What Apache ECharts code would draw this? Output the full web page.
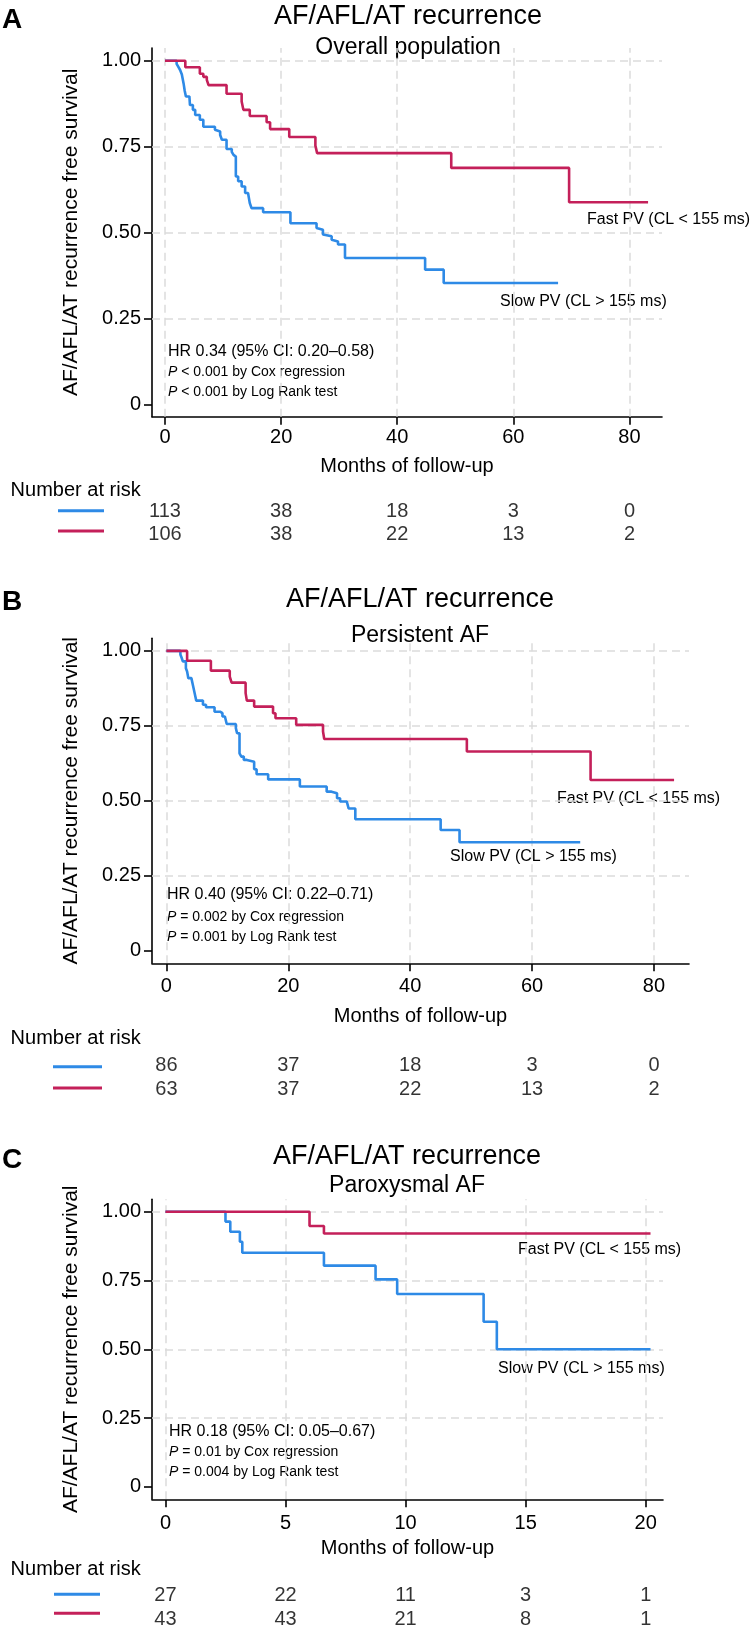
<!DOCTYPE html>
<html>
<head>
<meta charset="utf-8">
<script src="https://cdn.jsdelivr.net/npm/echarts@6/dist/echarts.min.js"></script>
<style>
html, body { margin: 0; padding: 0; background: #fff; }
#main { width: 754px; height: 1636px; }
</style>
</head>
<body>
<div id="main"></div>
<script>
var RED = '#C4205A', BLUE = '#2E8AE6';
var FONT = '"Liberation Sans", Arial, Helvetica, sans-serif';

var yTicks = [0, 0.25, 0.5, 0.75, 1];
var yGrid = [0.25, 0.5, 0.75, 1];
var monthsLong = [0, 20, 40, 60, 80];
var monthsShort = [0, 5, 10, 15, 20];

// A - overall population
var aSlowT = [0, 2.0, 2.3, 2.6, 2.9, 3.2, 3.4, 3.6, 4.2, 4.3, 4.8, 5.2, 6.0, 6.6, 8.6, 8.9, 9.5, 9.8, 10.6, 11.5, 11.8, 12.05,
    12.2, 12.6, 13.2, 13.8, 14.3, 14.6, 14.9, 16.9, 21.6, 26.1, 26.4, 27.2, 27.5, 28.7, 29.0, 29.8, 31.0, 44.8, 48.0, 67.7];
var aSlowS = [1, 0.991, 0.982, 0.973, 0.960, 0.934, 0.912, 0.896, 0.891, 0.871, 0.857, 0.842, 0.828, 0.808, 0.799, 0.794, 0.784, 0.770, 0.743, 0.735, 0.726, 0.721,
    0.663, 0.649, 0.634, 0.615, 0.610, 0.586, 0.571, 0.559, 0.527, 0.513, 0.508, 0.494, 0.489, 0.479, 0.474, 0.465, 0.426, 0.392, 0.353, 0.353];
var aFastT = [0, 3.5, 6.0, 6.6, 7.2, 7.5, 10.6, 13.2, 13.5, 14.6, 17.5, 18.1, 21.4, 25.9, 26.2, 49.3, 69.6, 83.2];
var aFastS = [1, 0.981, 0.962, 0.953, 0.944, 0.929, 0.904, 0.881, 0.857, 0.839, 0.821, 0.801, 0.778, 0.753, 0.731, 0.688, 0.588, 0.588];
var aRiskSlow = [113, 38, 18, 3, 0];
var aRiskFast = [106, 38, 22, 13, 2];
var aStats = ['HR 0.34 (95% CI: 0.20\u20130.58)', ' < 0.001 by Cox regression', ' < 0.001 by Log Rank test'];

// B - persistent AF
var bSlowT = [0, 2.3, 2.5, 2.7, 3.2, 3.4, 3.6, 4.1, 4.4, 4.7, 4.9, 6.0, 6.5, 7.9, 8.8, 9.2, 9.6, 9.9, 11.4, 11.6, 12.0,
    12.3, 12.7, 13.2, 14.4, 14.8, 16.7, 21.9, 26.3, 27.1, 28.0, 28.5, 29.6, 29.9, 31.0, 45.0, 48.1, 67.9];
var bSlowS = [1, 0.988, 0.977, 0.965, 0.942, 0.931, 0.909, 0.903, 0.881, 0.853, 0.834, 0.820, 0.812, 0.797, 0.792, 0.781, 0.775, 0.756, 0.742, 0.725, 0.658,
    0.647, 0.636, 0.630, 0.605, 0.588, 0.571, 0.547, 0.530, 0.525, 0.508, 0.497, 0.491, 0.474, 0.438, 0.402, 0.361, 0.361];
var bFastT = [0, 3.4, 7.3, 10.4, 10.7, 13.0, 13.2, 14.4, 17.5, 17.9, 21.3, 25.7, 25.9, 49.3, 69.6, 83.3];
var bFastS = [1, 0.967, 0.934, 0.914, 0.894, 0.859, 0.834, 0.814, 0.792, 0.775, 0.753, 0.731, 0.706, 0.664, 0.569, 0.569];
var bRiskSlow = [86, 37, 18, 3, 0];
var bRiskFast = [63, 37, 22, 13, 2];
var bStats = ['HR 0.40 (95% CI: 0.22\u20130.71)', ' = 0.002 by Cox regression', ' = 0.001 by Log Rank test'];

// C - paroxysmal AF
var cSlowT = [0, 2.5, 2.7, 3.1, 3.2, 6.6, 8.75, 9.65, 13.25, 13.8, 20.2];
var cSlowS = [1, 0.964, 0.927, 0.891, 0.851, 0.804, 0.754, 0.701, 0.600, 0.500, 0.500];
var cFastT = [0, 6.0, 6.6, 20.2];
var cFastS = [1, 0.948, 0.921, 0.921];
var cRiskSlow = [27, 22, 11, 3, 1];
var cRiskFast = [43, 43, 21, 8, 1];
var cStats = ['HR 0.18 (95% CI: 0.05\u20130.67)', ' = 0.01 by Cox regression', ' = 0.004 by Log Rank test'];

var panels = [
    {letter: 'A', sub: 'Overall population', ticks: monthsLong,
        slowT: aSlowT, slowS: aSlowS, fastT: aFastT, fastS: aFastS, riskSlow: aRiskSlow, riskFast: aRiskFast, stats: aStats,
        box: {left: 152, top: 48, width: 510, height: 368.7}, xMin: -2.24, xMax: 85.6, yMin: -0.036, yMax: 1.037,
        cx: 408, letterY: 20, titleY: 17, subY: 48, labelMargin: 11, nameGap: 40,
        statsX: 168, statsY: [351.7, 372.3, 392.3], fastXY: [587, 220], slowXY: [500, 301.7],
        headY: 490, riskTop: 500, keyX: [58, 104], keyY: [510.7, 531]},
    {letter: 'B', sub: 'Persistent AF', ticks: monthsLong,
        slowT: bSlowT, slowS: bSlowS, fastT: bFastT, fastS: bFastS, riskSlow: bRiskSlow, riskFast: bRiskFast, stats: bStats,
        box: {left: 152, top: 638.3, width: 537, height: 325}, xMin: -2.36, xMax: 85.75, yMin: -0.043, yMax: 1.042,
        cx: 420, letterY: 602.5, titleY: 599.5, subY: 635.5, labelMargin: 13, nameGap: 43,
        statsX: 167, statsY: [895, 916.7, 936.7], fastXY: [557, 798.3], slowXY: [450, 856.7],
        headY: 1038.3, riskTop: 1054.3, keyX: [53, 102], keyY: [1066.7, 1088]},
    {letter: 'C', sub: 'Paroxysmal AF', ticks: monthsShort,
        slowT: cSlowT, slowS: cSlowS, fastT: cFastT, fastS: cFastS, riskSlow: cRiskSlow, riskFast: cRiskFast, stats: cStats,
        box: {left: 152, top: 1199.3, width: 511, height: 300}, xMin: -0.56, xMax: 20.72, yMin: -0.045, yMax: 1.045,
        cx: 407, letterY: 1160, titleY: 1156.5, subY: 1186, labelMargin: 14, nameGap: 39,
        statsX: 169, statsY: [1431.7, 1451.7, 1471.7], fastXY: [518, 1250], slowXY: [498, 1368.3],
        headY: 1569.3, riskTop: 1584.3, keyX: [54, 100], keyY: [1594.3, 1613.3]}
];

function zip(t, s) {
    var out = [];
    for (var i = 0; i < t.length; i++) out.push([t[i], s[i]]);
    return out;
}

function txt(x, y, text, size, align, extra) {
    var st = {text: text, fontSize: size, fontFamily: FONT, fill: '#000',
        align: align, verticalAlign: 'middle', textAlign: align, textVerticalAlign: 'middle'};
    for (var k in extra) st[k] = extra[k];
    return {type: 'text', x: x, y: y, silent: true, style: st};
}

var option = {animation: false, grid: [], xAxis: [], yAxis: [], series: [], graphic: []};
var axisCol = {color: '#000', width: 1.6};

panels.forEach(function (p, k) {
    var xi = 2 * k;
    option.grid.push({left: p.box.left, top: p.box.top, width: p.box.width, height: p.box.height});
    option.grid.push({left: p.box.left, top: p.riskTop, width: p.box.width, height: 46.6});

    option.xAxis.push({
        gridIndex: xi, type: 'value', min: p.xMin, max: p.xMax,
        name: 'Months of follow-up', nameLocation: 'middle', nameGap: p.nameGap,
        nameTextStyle: {fontSize: 20, color: '#000', fontFamily: FONT},
        axisLine: {onZero: false, lineStyle: axisCol},
        axisTick: {customValues: p.ticks, length: 8, lineStyle: axisCol},
        axisLabel: {customValues: p.ticks, margin: p.labelMargin, fontSize: 20, color: '#000', fontFamily: FONT},
        splitLine: {show: false}
    });
    option.xAxis.push({gridIndex: xi + 1, type: 'value', min: p.xMin, max: p.xMax, show: false});

    option.yAxis.push({
        gridIndex: xi, type: 'value', min: p.yMin, max: p.yMax,
        name: 'AF/AFL/AT recurrence free survival', nameLocation: 'middle', nameGap: 70,
        nameTextStyle: {fontSize: 21, color: '#000', fontFamily: FONT},
        axisLine: {show: true, onZero: false, lineStyle: axisCol},
        axisTick: {show: true, customValues: yTicks, length: 8, lineStyle: axisCol},
        axisLabel: {customValues: yTicks, margin: 11, fontSize: 20, color: '#000', fontFamily: FONT,
            formatter: function (v) { return v === 0 ? '0' : v.toFixed(2); }},
        splitLine: {show: false}
    });
    // risk table rows: slow on top, fast below
    option.yAxis.push({gridIndex: xi + 1, type: 'category', inverse: true, data: ['Slow', 'Fast'], show: false});

    // dashed reference grid
    var gl = p.ticks.map(function (t) { return {xAxis: t}; })
        .concat(yGrid.map(function (v) { return {yAxis: v}; }));
    option.series.push({
        type: 'line', xAxisIndex: xi, yAxisIndex: xi, data: [], silent: true,
        markLine: {silent: true, z: 1, symbol: ['none', 'none'], label: {show: false},
            lineStyle: {color: '#DCDCDC', type: [8, 5], width: 1.5}, emphasis: {disabled: true}, data: gl}
    });

    option.series.push({
        name: 'Slow PV', type: 'line', step: 'end', xAxisIndex: xi, yAxisIndex: xi, z: 10,
        data: zip(p.slowT, p.slowS), symbol: 'none', lineStyle: {color: BLUE, width: 2.6}
    });
    option.series.push({
        name: 'Fast PV', type: 'line', step: 'end', xAxisIndex: xi, yAxisIndex: xi, z: 11,
        data: zip(p.fastT, p.fastS), symbol: 'none', lineStyle: {color: RED, width: 2.6}
    });

    // number at risk rows
    [['Slow', p.riskSlow], ['Fast', p.riskFast]].forEach(function (row) {
        option.series.push({
            type: 'scatter', xAxisIndex: xi + 1, yAxisIndex: xi + 1, silent: true,
            data: p.ticks.map(function (t, i) { return [t, row[0], row[1][i]]; }),
            symbolSize: 1, itemStyle: {color: 'rgba(0,0,0,0)'},
            label: {show: true, position: 'inside', color: '#000', fontSize: 20, fontFamily: FONT,
                formatter: function (d) { return String(d.value[2]); }}
        });
    });

    var g = option.graphic;
    g.push(txt(2, p.letterY, p.letter, 28, 'left', {fontWeight: 'bold'}));
    g.push(txt(p.cx, p.titleY, 'AF/AFL/AT recurrence', 27, 'center'));
    g.push(txt(p.cx, p.subY, p.sub, 23, 'center'));
    g.push(txt(p.statsX, p.statsY[0], p.stats[0], 16, 'left'));
    var rich = {i: {fontStyle: 'italic', fontSize: 14, fontFamily: FONT, fill: '#000'}};
    g.push(txt(p.statsX, p.statsY[1], '{i|P}' + p.stats[1], 14, 'left', {rich: rich}));
    g.push(txt(p.statsX, p.statsY[2], '{i|P}' + p.stats[2], 14, 'left', {rich: rich}));
    g.push(txt(p.fastXY[0], p.fastXY[1], 'Fast PV (CL < 155 ms)', 16, 'left'));
    g.push(txt(p.slowXY[0], p.slowXY[1], 'Slow PV (CL > 155 ms)', 16, 'left'));
    g.push(txt(10.6, p.headY, 'Number at risk', 20, 'left'));
    g.push({type: 'line', silent: true, shape: {x1: p.keyX[0], y1: p.keyY[0], x2: p.keyX[1], y2: p.keyY[0]},
        style: {stroke: BLUE, lineWidth: 3}});
    g.push({type: 'line', silent: true, shape: {x1: p.keyX[0], y1: p.keyY[1], x2: p.keyX[1], y2: p.keyY[1]},
        style: {stroke: RED, lineWidth: 3}});
});

var myChart = echarts.init(document.getElementById('main'), null, {renderer: 'canvas'});
myChart.setOption(option);
</script>
</body>
</html>
